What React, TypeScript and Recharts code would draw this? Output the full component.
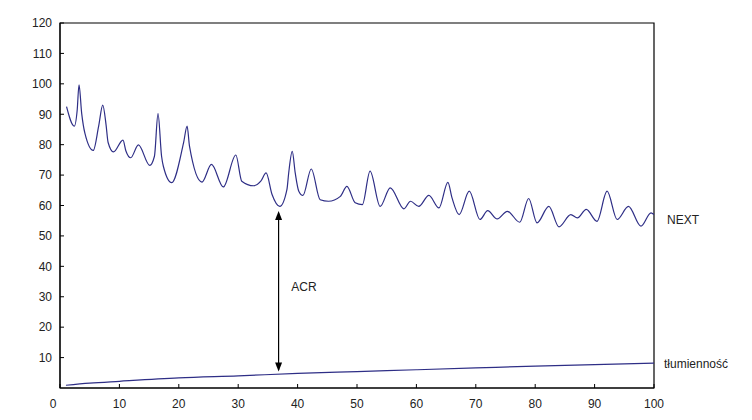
import React from 'react'
import {
  LineChart, Line, XAxis, YAxis, ReferenceArea, ReferenceLine, ReferenceDot
} from 'recharts'

// NEXT curve (frequency, dB)
const nextX = [
  1.1, 2.4, 2.9, 3.2, 3.65, 4.2, 5.6, 6.5, 7.2, 7.75, 8.1, 9.0, 10.6, 11.1, 11.9, 13.2,
  15.1, 15.9, 16.5, 17.1, 17.4, 18.8, 20.8, 21.4, 21.8, 23.9, 25.5, 27.5, 29.6, 30.6,
  32.6, 33.8, 34.7, 35.7, 37.0, 38.2, 38.5, 39.1, 39.6, 40.2, 40.9, 42.3, 43.8, 45.2,
  47.2, 48.3, 49.7, 50.9, 52.2, 53.9, 55.6, 57.9, 59.0, 60.4, 62.1, 63.8, 65.3, 66.0,
  67.2, 68.9, 70.7, 72.0, 73.6, 75.3, 77.4, 78.9, 80.3, 82.3, 84.0, 86.0, 87.1, 88.6,
  90.4, 92.1, 93.8, 95.7, 97.8, 99.5, 100
]
const nextY = [
  92.5, 86.1, 91.5, 99.7, 90.3, 83.7, 78.1, 86.0, 93.0, 86.6, 80.7, 77.6, 81.5, 77.9, 75.7, 79.9,
  73.2, 76.2, 90.2, 76.2, 72.9, 67.5, 80.6, 86.1, 79.5, 67.7, 73.5, 66.1, 76.6, 68.0,
  66.5, 68.0, 70.7, 63.6, 59.7, 65.2, 70.7, 77.8, 70.7, 64.7, 63.3, 72.0, 61.9, 61.4,
  63.0, 66.3, 60.9, 60.3, 71.3, 59.7, 65.8, 58.9, 61.4, 59.7, 63.3, 59.2, 67.6, 62.5,
  57.0, 64.7, 55.4, 58.3, 55.6, 58.1, 54.5, 62.3, 54.3, 59.7, 53.0, 57.0, 55.9, 58.7,
  54.8, 64.7, 55.4, 59.7, 53.2, 57.6, 57.0
]

// attenuation curve
const attX = [1, 5, 10, 20, 30, 40, 50, 60, 70, 80, 90, 100]
const attY = [0.9, 1.6, 2.2, 3.3, 4.0, 4.8, 5.4, 6.0, 6.6, 7.2, 7.7, 8.2]

const xTicks = [0, 10, 20, 30, 40, 50, 60, 70, 80, 90, 100]
const yTicks = [10, 20, 30, 40, 50, 60, 70, 80, 90, 100, 110, 120]

const nextData = nextX.map((x, i) => ({ x, y: nextY[i] }))
const attData = attX.map((x, i) => ({ x, y: attY[i] }))

const FONT = '"Liberation Sans", Arial, sans-serif'
const TEXT = '#222'
const LINE = '#2e2e86'

const XTick = ({ x, y, payload }: any) => (
  <text
    x={payload.value === 0 ? x - 7 : x}
    y={y}
    dy="0.71em"
    textAnchor="middle"
    fill={TEXT}
    fontSize={12}
    fontFamily={FONT}
  >
    {payload.value}
  </text>
)

const ArrowUp = ({ cx, cy }: any) => (
  <polygon points={`${cx},${cy} ${cx - 3.5},${cy + 9} ${cx + 3.5},${cy + 9}`} fill="#000" />
)
const ArrowDown = ({ cx, cy }: any) => (
  <polygon points={`${cx},${cy} ${cx - 3.5},${cy - 9} ${cx + 3.5},${cy - 9}`} fill="#000" />
)

export default function App() {
  const labelStyle = { fill: TEXT, fontSize: 12, fontFamily: FONT }
  return (
    <div style={{ position: 'absolute', left: 0, top: 0, background: '#fff' }}>
      <LineChart width={752} height={420} margin={{ top: 23, right: 98, left: 0, bottom: 0 }}>
        <XAxis
          dataKey="x"
          type="number"
          domain={[0, 100]}
          ticks={xTicks}
          height={32}
          tickSize={-4}
          tickMargin={15}
          axisLine={{ stroke: '#000' }}
          tickLine={{ stroke: '#000' }}
          tick={<XTick />}
          allowDataOverflow
        />
        <YAxis
          type="number"
          domain={[0, 120]}
          ticks={yTicks}
          width={60}
          tickSize={-4}
          tickMargin={12}
          axisLine={{ stroke: '#000' }}
          tickLine={{ stroke: '#000' }}
          tick={{ fill: TEXT, fontSize: 12, fontFamily: FONT }}
          allowDataOverflow
        />
        <ReferenceArea x1={0} x2={100} y1={0} y2={120} fill="none" stroke="#000" strokeWidth={1.2} fillOpacity={0} />
        <Line
          data={nextData}
          dataKey="y"
          type="monotone"
          stroke={LINE}
          strokeWidth={1.2}
          dot={false}
          isAnimationActive={false}
        />
        <Line
          data={attData}
          dataKey="y"
          type="monotone"
          stroke={LINE}
          strokeWidth={1.2}
          dot={false}
          isAnimationActive={false}
        />
        {/* ACR arrow between the two curves */}
        <ReferenceLine
          segment={[{ x: 36.8, y: 57.5 }, { x: 36.8, y: 6.0 }]}
          stroke="#000"
          strokeWidth={1.2}
        />
        <ReferenceDot x={36.8} y={58.2} shape={<ArrowUp />} ifOverflow="visible" />
        <ReferenceDot x={36.8} y={5.4} shape={<ArrowDown />} ifOverflow="visible" />
        <ReferenceDot
          x={38.6}
          y={33.2}
          r={1}
          fill="none"
          stroke="none"
          label={{ value: 'ACR', position: 'right', offset: 1, ...labelStyle }}
        />
        <ReferenceDot
          x={100}
          y={55.4}
          r={1}
          fill="none"
          stroke="none"
          ifOverflow="visible"
          label={{ value: 'NEXT', position: 'right', offset: 12, ...labelStyle }}
        />
        <ReferenceDot
          x={100}
          y={7.9}
          r={1}
          fill="none"
          stroke="none"
          ifOverflow="visible"
          label={{ value: 'tłumienność', position: 'right', offset: 9, ...labelStyle }}
        />
      </LineChart>
    </div>
  )
}
